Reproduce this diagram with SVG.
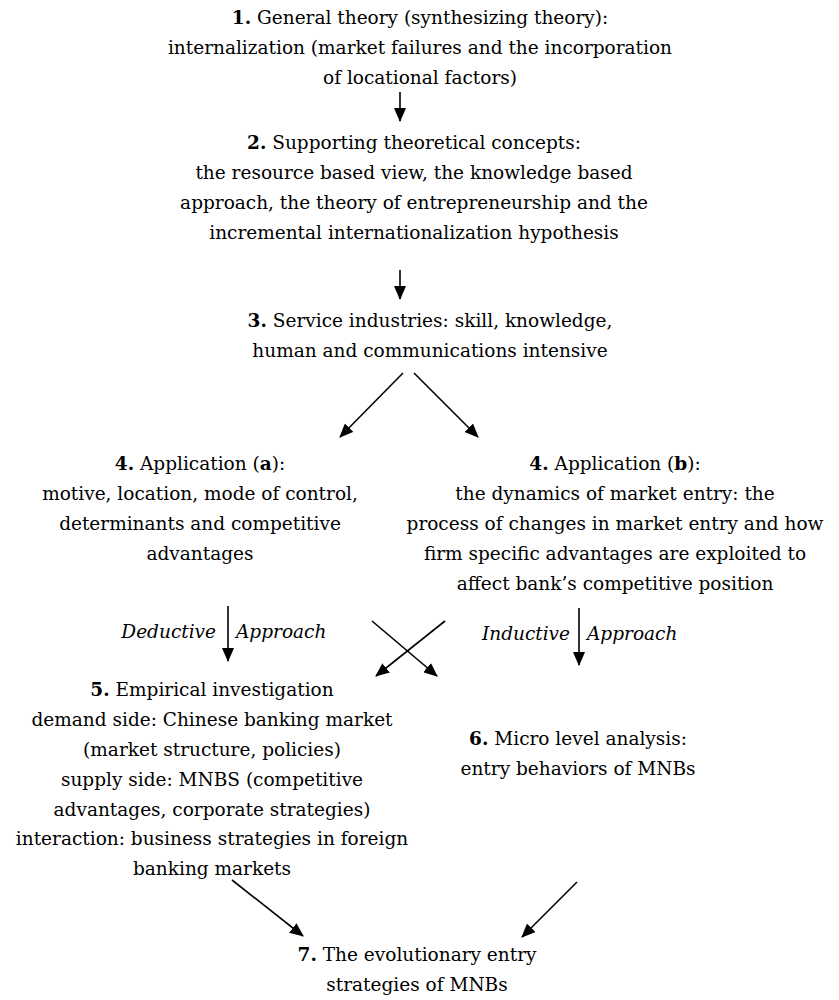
<svg xmlns="http://www.w3.org/2000/svg" width="839" height="1000" viewBox="0 0 839 1000">
<style>
text{font-family:"DejaVu Serif","Liberation Serif","Noto Serif",serif;font-size:18.5px;fill:#000;text-anchor:middle}
.b{font-weight:bold}
.i{font-style:italic}
.e{text-anchor:end}
.s{text-anchor:start}
.c line{stroke:#000;stroke-width:1.6;fill:none}
</style>
<defs>
<marker id="ah" viewBox="0 0 14 12" refX="13" refY="6" markerWidth="14" markerHeight="12" orient="auto" markerUnits="userSpaceOnUse">
<path d="M0,0 L14,6 L0,12 Z" fill="#000"/>
</marker>
</defs>
<rect width="839" height="1000" fill="#fff"/>
<g id="n1">
<text x="420" y="24"><tspan class="b">1.</tspan> General theory (synthesizing theory):</text>
<text x="420" y="54">internalization (market failures and the incorporation</text>
<text x="420" y="84">of locational factors)</text>
</g>
<g id="n2">
<text x="414" y="149"><tspan class="b">2.</tspan> Supporting theoretical concepts:</text>
<text x="414" y="179">the resource based view, the knowledge based</text>
<text x="414" y="209">approach, the theory of entrepreneurship and the</text>
<text x="414" y="239">incremental internationalization hypothesis</text>
</g>
<g id="n3">
<text x="430" y="327"><tspan class="b">3.</tspan> Service industries: skill, knowledge,</text>
<text x="430" y="357">human and communications intensive</text>
</g>
<g id="n4a">
<text x="200" y="470"><tspan class="b">4.</tspan> Application (<tspan class="b">a</tspan>):</text>
<text x="200" y="500">motive, location, mode of control,</text>
<text x="200" y="530">determinants and competitive</text>
<text x="200" y="560">advantages</text>
</g>
<g id="n4b">
<text x="615" y="470"><tspan class="b">4.</tspan> Application (<tspan class="b">b</tspan>):</text>
<text x="615" y="500">the dynamics of market entry: the</text>
<text x="615" y="530">process of changes in market entry and how</text>
<text x="615" y="560">firm specific advantages are exploited to</text>
<text x="615" y="590">affect bank’s competitive position</text>
</g>
<g id="lbl-deductive">
<text class="i e" x="216" y="638">Deductive</text>
<text class="i s" x="236" y="638">Approach</text>
</g>
<g id="lbl-inductive">
<text class="i e" x="570" y="640">Inductive</text>
<text class="i s" x="587" y="640">Approach</text>
</g>
<g id="n5">
<text x="212" y="696"><tspan class="b">5.</tspan> Empirical investigation</text>
<text x="212" y="726">demand side: Chinese banking market</text>
<text x="212" y="756">(market structure, policies)</text>
<text x="212" y="786">supply side: MNBS (competitive</text>
<text x="212" y="816">advantages, corporate strategies)</text>
<text x="212" y="845">interaction: business strategies in foreign</text>
<text x="212" y="875">banking markets</text>
</g>
<g id="n6">
<text x="578" y="745"><tspan class="b">6.</tspan> Micro level analysis:</text>
<text x="578" y="775">entry behaviors of MNBs</text>
</g>
<g id="n7">
<text x="417" y="961"><tspan class="b">7.</tspan> The evolutionary entry</text>
<text x="417" y="991">strategies of MNBs</text>
</g>
<g id="connectors" class="c">
<line x1="400" y1="92" x2="400" y2="121" marker-end="url(#ah)"/>
<line x1="400" y1="270" x2="400" y2="299" marker-end="url(#ah)"/>
<line x1="403" y1="373" x2="340" y2="437" marker-end="url(#ah)"/>
<line x1="414" y1="373" x2="478" y2="437" marker-end="url(#ah)"/>
<line x1="228" y1="606" x2="228" y2="661" marker-end="url(#ah)"/>
<line x1="372" y1="621" x2="437" y2="676" marker-end="url(#ah)"/>
<line x1="445" y1="621" x2="376" y2="676" marker-end="url(#ah)"/>
<line x1="579" y1="608" x2="579" y2="665" marker-end="url(#ah)"/>
<line x1="232" y1="880" x2="303" y2="936" marker-end="url(#ah)"/>
<line x1="577" y1="882" x2="522" y2="937" marker-end="url(#ah)"/>
</g>
</svg>
